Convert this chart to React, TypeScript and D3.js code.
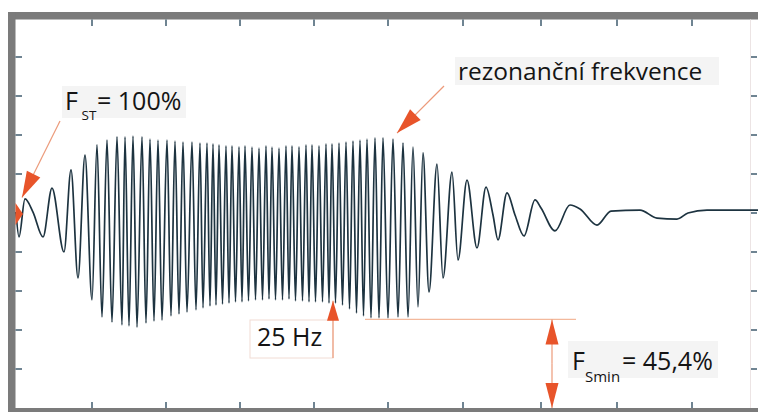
import React, { useEffect, useRef } from 'react';
import * as d3 from 'd3';

// wheel contact force trace (EUSAMA test), turning points
// time in ms, force in % of the static wheel load

// start of the plate motion, frequency rising
const rampTime = [0, 18, 54, 102, 162, 216, 288, 330, 372, 414, 456, 486, 516, 546, 576, 606, 636, 654, 678, 702,
  726, 756, 780, 804, 828, 852, 876, 906, 930, 954, 978, 1002, 1026, 1056, 1080, 1104, 1122, 1146, 1164, 1182];
const rampForce = [100.5, 87.7, 107.2, 100.5, 87.7, 112.8, 80.0, 122.1, 66.7, 129.7, 55.4, 134.9, 46.7, 137.4, 44.1, 139.0, 42.6, 139.0, 42.1, 139.5,
  41.5, 139.0, 43.6, 137.9, 44.6, 137.4, 45.1, 137.4, 47.2, 136.9, 48.2, 136.4, 49.2, 136.4, 50.3, 135.9, 51.3, 135.9, 52.3, 135.4];

// 25 Hz excitation, then switch-off and run-down through resonance
const plateauTime = [1200, 1218, 1239, 1260, 1278, 1296, 1317, 1338, 1356, 1374, 1395, 1416, 1437, 1458, 1479, 1500, 1518, 1536,
  1557, 1578, 1599, 1620, 1638, 1656, 1677, 1698, 1719, 1740, 1758, 1776, 1797, 1818, 1839, 1860, 1878, 1896,
  1917, 1938, 1959, 1980, 2001, 2022, 2043, 2064, 2085, 2106, 2130, 2154, 2178, 2202, 2232, 2262, 2292, 2322];
const plateauForce = [52.8, 134.9, 53.3, 134.4, 53.8, 134.4, 54.4, 133.9, 54.4, 134.4, 54.9, 133.8, 55.4, 133.3, 55.4, 134.4, 55.9, 133.8,
  55.4, 133.3, 55.4, 134.4, 55.9, 134.4, 54.9, 133.9, 54.9, 134.9, 54.4, 134.9, 54.4, 134.4, 54.4, 135.4, 53.8, 135.4,
  53.8, 135.9, 52.8, 136.4, 50.8, 136.9, 48.7, 137.4, 47.2, 137.9, 46.2, 138.5, 46.2, 138.5, 46.2, 137.9, 46.7, 135.9];

// decay after resonance
const decayTime = [2352, 2382, 2412, 2442, 2478, 2526, 2562, 2616, 2652, 2706, 2766, 2820, 2862, 2892, 2946, 2994, 3048, 3114, 3150, 3234,
  3324, 3384, 3486, 3570, 3744, 3846, 3966, 4032, 4146, 4452];
const decayForce = [46.7, 133.8, 51.8, 130.8, 59.5, 125.1, 66.7, 121.0, 75.9, 116.9, 82.1, 113.3, 99.0, 86.2, 110.3, 99.0, 88.2, 106.7, 102.6, 90.8,
  104.1, 102.1, 93.8, 101.0, 101.5, 97.4, 96.9, 100.0, 101.5, 101.5];

const xTicks = [456, 900, 1344, 1788, 2232, 2682, 3150, 3606, 4056];
const yTicks = [20, 40, 60, 80, 100, 120, 140, 160, 180];

const minForce = 45.4;       // F_Smin
const hz25Time = 1902;       // 25 Hz marker
const resonanceTime = 2286;  // resonance marker
const minLineStart = 2094;
const minLineEnd = 3360;
const minArrowTime = 3216;

const ORANGE = '#e8542a';
const FONT = "'Open Sans', sans-serif";

const Chart = () => {
  const svgRef = useRef(null);

  useEffect(() => {
    const svg = d3.select(svgRef.current);
    svg.selectAll('*').remove();

    const x = d3.scaleLinear().domain([0, 4452]).range([16, 758]);
    const y = d3.scaleLinear().domain([0, 200]).range([408, 18]);

    const time = [...rampTime, ...plateauTime, ...decayTime];
    const force = [...rampForce, ...plateauForce, ...decayForce];
    const data = time.map((t, i) => ({ t, f: force[i] }));

    // frame
    svg.append('rect').attr('x', 0).attr('y', 0).attr('width', 758).attr('height', 412).attr('fill', '#fff');
    svg.append('rect').attr('x', 8).attr('y', 12).attr('width', 750).attr('height', 7.5).attr('fill', '#7b7b7b');
    svg.append('rect').attr('x', 8).attr('y', 12).attr('width', 7.5).attr('height', 400).attr('fill', '#7b7b7b');
    svg.append('rect').attr('x', 8).attr('y', 408).attr('width', 750).attr('height', 4).attr('fill', '#7b7b7b');
    svg.append('line').attr('x1', 750.5).attr('x2', 750.5).attr('y1', 19.5).attr('y2', 408)
      .attr('stroke', '#ece4e4').attr('stroke-width', 1);

    const tickColor = '#3f5b6e';
    const ticks = svg.append('g').attr('stroke', tickColor).attr('stroke-width', 1.5);
    xTicks.forEach(t => {
      ticks.append('line').attr('x1', x(t)).attr('x2', x(t)).attr('y1', 19.5).attr('y2', 26);
      ticks.append('line').attr('x1', x(t)).attr('x2', x(t)).attr('y1', 402).attr('y2', 408);
    });
    yTicks.forEach(v => {
      ticks.append('line').attr('x1', 15.5).attr('x2', 22).attr('y1', y(v)).attr('y2', y(v));
      ticks.append('line').attr('x1', 751).attr('x2', 757).attr('y1', y(v)).attr('y2', y(v));
    });

    // force trace
    const line = d3.line()
      .x(d => x(d.t))
      .y(d => y(d.f))
      .curve(d3.curveMonotoneX);
    svg.append('path')
      .datum(data)
      .attr('d', line)
      .attr('fill', 'none')
      .attr('stroke', '#1d3340')
      .attr('stroke-width', 1.7)
      .attr('stroke-linejoin', 'round');

    const arrowHead = (sx, sy, tx, ty, len, half) => {
      const dx = tx - sx, dy = ty - sy;
      const d = Math.hypot(dx, dy);
      const ux = dx / d, uy = dy / d;
      const bx = tx - ux * len, by = ty - uy * len;
      return `${tx},${ty} ${bx - uy * half},${by + ux * half} ${bx + uy * half},${by - ux * half}`;
    };
    const arrow = (sx, sy, tx, ty, len = 24, half = 7) => {
      svg.append('line').attr('x1', sx).attr('y1', sy).attr('x2', tx).attr('y2', ty)
        .attr('stroke', '#ec9a7a').attr('stroke-width', 1.2);
      svg.append('polygon').attr('points', arrowHead(sx, sy, tx, ty, len, half)).attr('fill', ORANGE);
    };

    const label = (parts, bx, by, bw, bh) => {
      svg.append('rect').attr('x', bx).attr('y', by).attr('width', bw).attr('height', bh).attr('fill', '#f4f4f4');
      parts.forEach(p => {
        svg.append('text').attr('x', p.x).attr('y', p.y).attr('font-size', p.size)
          .attr('font-family', FONT).attr('fill', '#141414').text(p.text);
      });
    };

    // F_ST = 100 %
    label([
      { text: 'F', x: 65, y: 110, size: 25 },
      { text: 'ST', x: 81.5, y: 120, size: 13.5 },
      { text: '= 100%', x: 97, y: 110, size: 25 },
    ], 62, 86, 124, 32);
    arrow(60, 121, x(36), y(108), 26, 7.5);
    svg.append('polygon').attr('points', `15.5,203 23,214 15.5,225`).attr('fill', ORANGE);

    // resonance
    label([{ text: 'rezonanční frekvence', x: 458, y: 80, size: 24.5 }], 455, 57, 264, 28);
    arrow(444, 86, x(resonanceTime), y(141), 26, 7.5);

    // 25 Hz
    svg.append('rect').attr('x', 250).attr('y', 320).attr('width', x(hz25Time) - 250).attr('height', 38)
      .attr('fill', '#fff').attr('stroke', '#f1dcd4').attr('stroke-width', 1);
    svg.append('text').attr('x', 257).attr('y', 346).attr('font-size', 25)
      .attr('font-family', FONT).attr('fill', '#141414').text('25 Hz');
    arrow(x(hz25Time), 358, x(hz25Time), y(55), 20, 6);

    // F_Smin
    svg.append('line').attr('x1', x(minLineStart)).attr('x2', x(minLineEnd)).attr('y1', y(minForce)).attr('y2', y(minForce))
      .attr('stroke', '#f3b99c').attr('stroke-width', 1.3);
    const ax = x(minArrowTime);
    const mid = (y(minForce) + y(0)) / 2;
    arrow(ax, mid, ax, y(minForce), 25, 6.5);
    arrow(ax, mid, ax, y(0), 25, 6.5);
    label([
      { text: 'F', x: 572, y: 370, size: 25 },
      { text: 'Smin', x: 585, y: 382, size: 15 },
      { text: '= 45,4%', x: 622, y: 370, size: 25 },
    ], 568, 341, 150, 37);
  }, []);

  return (
    <svg ref={svgRef} width="758" height="412" style={{ position: 'absolute', left: 0, top: 0, display: 'block' }} />
  );
};

export default function App() {
  return <Chart />;
}
